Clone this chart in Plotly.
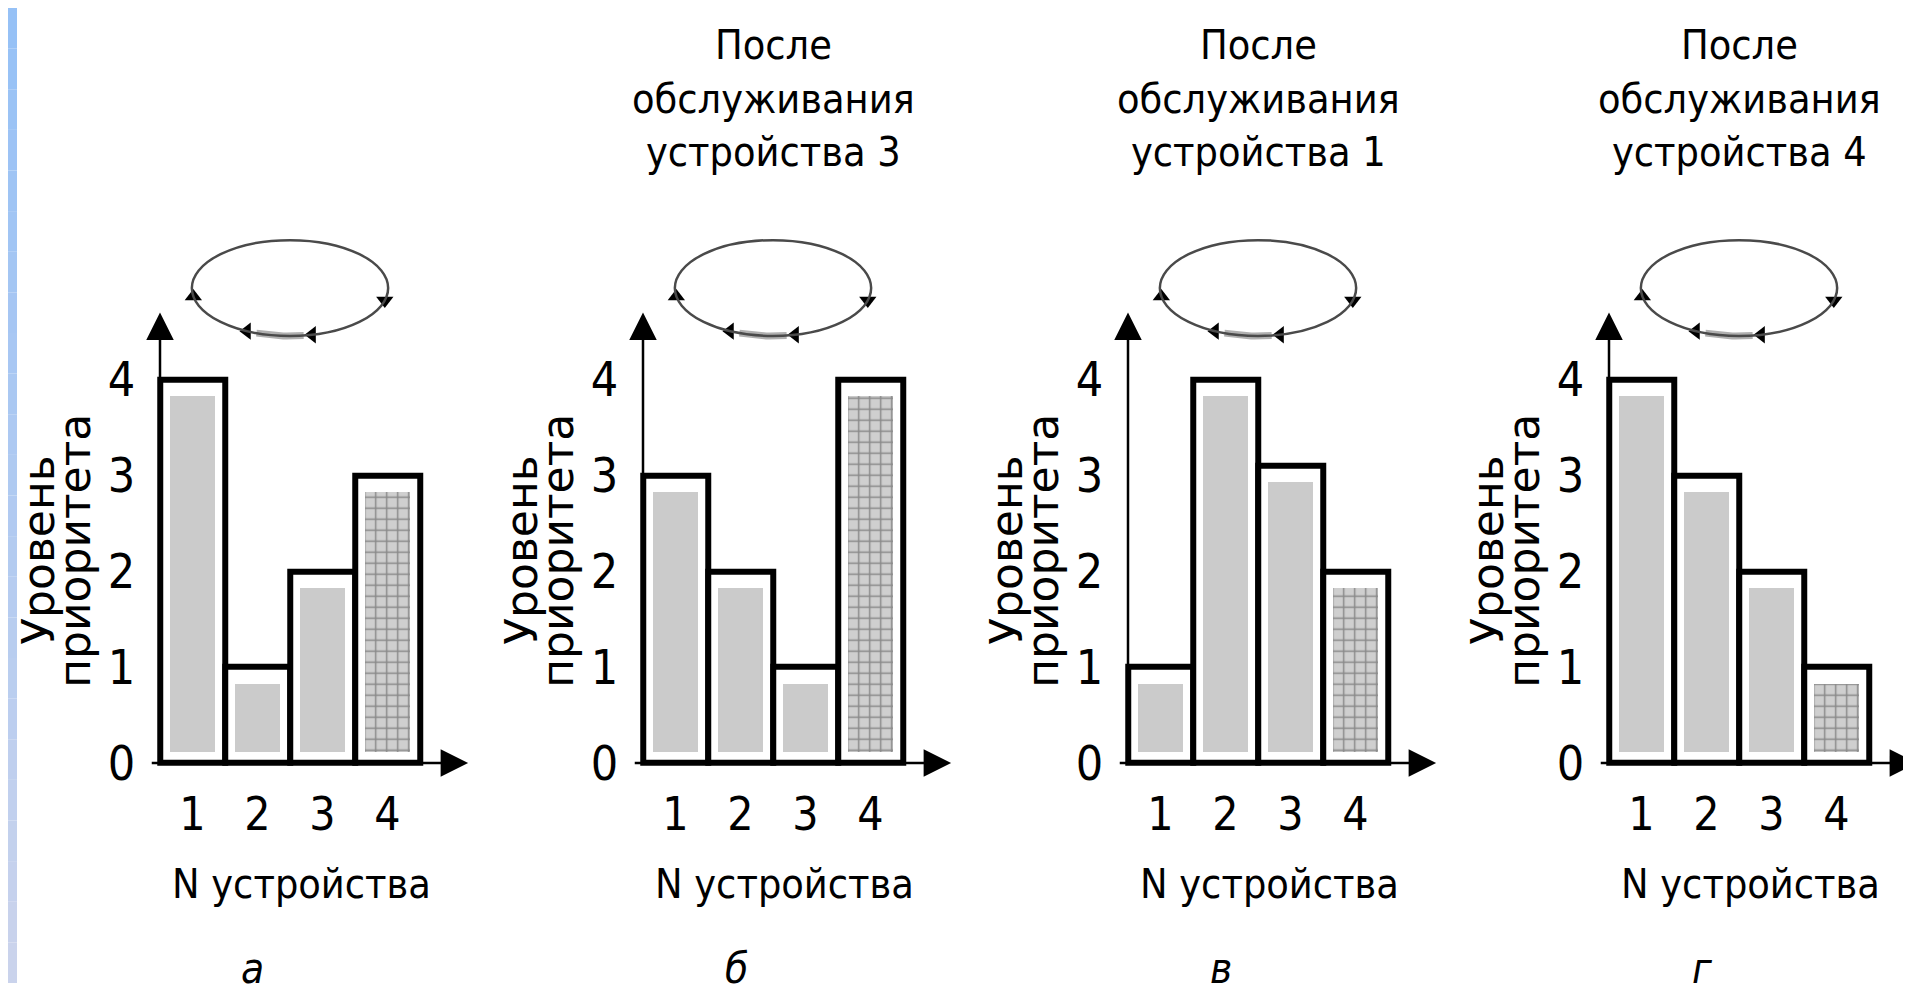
import math
import plotly.graph_objects as go

# ---------------- data ----------------
devices = [1, 2, 3, 4]
priorities_a = [4, 1, 2, 3]
priorities_b = [3, 2, 1, 4]
priorities_v = [1, 4, 3.1, 2]
priorities_g = [4, 3, 2, 1]
panel_values = [priorities_a, priorities_b, priorities_v, priorities_g]
panel_titles = [[],
                ["После", "обслуживания", "устройства 3"],
                ["После", "обслуживания", "устройства 1"],
                ["После", "обслуживания", "устройства 4"]]
panel_letters = ["а", "б", "в", "г"]
y_tick_values = [0, 1, 2, 3, 4]
y_tick_labels = ["0", "1", "2", "3", "4"]
x_tick_labels = ["1", "2", "3", "4"]
x_title = "N устройства"
y_title_lines = ["Уровень", "приоритета"]

# ---------------- layout geometry (pixels) ----------------
W, H = 1911, 997
AXIS_PX = [152, 635, 1120, 1601]   # x pixel of each y-axis
UX, UY = 65, 98                     # pixels per data unit
BASE_PX = 772                       # pixel row of y = 0
XR = [0.35, 4.75]
YR = [-0.06, 5.7]
TITLE_CENTERS = [38, 93, 147]

NARROW = "DejaVu Sans Condensed, Liberation Sans Narrow, DejaVu Sans, sans-serif"
REG = "DejaVu Sans, Liberation Sans, sans-serif"
GRAY = "#cbcbcb"


def px_x(p):
    return p / W


def px_y(p):
    return 1 - p / H


fig = go.Figure()
annotations = []
shapes = []

# left gradient stripe
top_c = (150, 193, 246)
bot_c = (202, 211, 236)
n = 24
for k in range(n):
    f = k / (n - 1)
    c = tuple(round(top_c[j] + (bot_c[j] - top_c[j]) * f) for j in range(3))
    shapes.append(dict(type="rect", xref="paper", yref="paper",
                       x0=0, x1=px_x(9), y0=1 - (k + 1) / n, y1=1 - k / n,
                       fillcolor="rgb(%d,%d,%d)" % c, line=dict(width=0), layer="below"))

for i, vals in enumerate(panel_values):
    s = "" if i == 0 else str(i + 1)
    xa, ya = "x" + s, "y" + s
    ax_px = AXIS_PX[i]
    left = ax_px - (0.5 - XR[0]) * UX
    right = left + (XR[1] - XR[0]) * UX
    bottom = BASE_PX + (0 - YR[0]) * UY
    top = BASE_PX - YR[1] * UY

    fig.add_trace(go.Bar(
        x=devices, y=vals, width=1, xaxis=xa, yaxis=ya,
        marker=dict(color="white", line=dict(color="black", width=6)),
        hoverinfo="x+y"))
    inner = [v - 0.29 for v in vals]
    fig.add_trace(go.Bar(
        x=devices, y=inner, base=0.12, width=0.7, xaxis=xa, yaxis=ya,
        marker=dict(color=[GRAY, GRAY, GRAY, "#cfcfcf"],
                    line=dict(width=0),
                    pattern=dict(shape=["", "", "", "+"], fgcolor="#f2f2f2",
                                 bgcolor="#bdbdbd", size=11, solidity=0.25)),
        hoverinfo="skip"))

    # ring (ellipse) diagram above each chart
    cx = sum(devices) / len(devices)
    a_half, b_half, cy = 1.51, 0.5, 4.955
    shapes.append(dict(type="circle", xref=xa, yref=ya,
                       x0=cx - a_half, x1=cx + a_half, y0=cy - b_half, y1=cy + b_half,
                       line=dict(color="#4a4a4a", width=2.5)))
    seg_t = [math.radians(t) for t in range(250, 279, 2)]
    fig.add_trace(go.Scatter(
        x=[cx + a_half * math.cos(t) for t in seg_t],
        y=[cy + b_half * math.sin(t) for t in seg_t],
        mode="lines", line=dict(color="#b0b0b0", width=7),
        xaxis=xa, yaxis=ya, hoverinfo="skip"))
    mk_t = [math.radians(t) for t in (190, 244, 283, 345)]
    fig.add_trace(go.Scatter(
        x=[cx + a_half * math.cos(t) for t in mk_t],
        y=[cy + b_half * math.sin(t) for t in mk_t],
        mode="markers",
        marker=dict(symbol=["triangle-up", "triangle-left", "triangle-left", "triangle-down"],
                    size=15, color="black"),
        xaxis=xa, yaxis=ya, hoverinfo="skip"))

    # axes arrows
    annotations.append(dict(x=0.5, y=4.7, ax=0.5, ay=-0.03, xref=xa, yref=ya,
                            axref=xa, ayref=ya, showarrow=True, text="",
                            arrowhead=2, arrowsize=2.2, arrowwidth=2.5, arrowcolor="black"))
    annotations.append(dict(x=5.24, y=0, ax=0.35, ay=0, xref=xa, yref=ya,
                            axref=xa, ayref=ya, showarrow=True, text="",
                            arrowhead=2, arrowsize=2.2, arrowwidth=2.5, arrowcolor="black"))

    xkey = "xaxis" + s
    ykey = "yaxis" + s
    fig.update_layout(**{
        xkey: dict(domain=[px_x(left), px_x(right)], range=XR, anchor=ya,
                   tickvals=devices, ticktext=x_tick_labels, showgrid=False,
                   zeroline=False, showline=False, ticks="", ticklabelstandoff=14,
                   tickfont=dict(family=NARROW, size=46, color="black"), fixedrange=True),
        ykey: dict(domain=[px_y(bottom), px_y(top)], range=YR, anchor=xa,
                   tickvals=y_tick_values, ticktext=y_tick_labels, showgrid=False,
                   zeroline=False, showline=False, ticks="", ticklabelstandoff=14,
                   tickfont=dict(family=NARROW, size=48, color="black"), fixedrange=True),
    })

    # texts
    for line, yc in zip(panel_titles[i], TITLE_CENTERS):
        annotations.append(dict(x=px_x(ax_px + 130), y=px_y(yc), xref="paper", yref="paper",
                                text=line, showarrow=False, xanchor="center",
                                yanchor="middle", align="center",
                                font=dict(family=NARROW, size=41, color="black")))
    annotations.append(dict(x=px_x(ax_px + 141), y=px_y(896), xref="paper", yref="paper",
                            text=x_title, showarrow=False, xanchor="center", yanchor="middle",
                            font=dict(family=NARROW, size=41, color="black")))
    annotations.append(dict(x=px_x(ax_px + 93), y=px_y(982), xref="paper", yref="paper",
                            text="<i>" + panel_letters[i] + "</i>", showarrow=False,
                            xanchor="center", yanchor="middle",
                            font=dict(family=NARROW, size=42, color="black")))
    annotations.append(dict(x=px_x(ax_px - 121), y=px_y(555), xref="paper", yref="paper",
                            text=y_title_lines[0], showarrow=False, textangle=-90,
                            xanchor="center", yanchor="middle",
                            font=dict(family=REG, size=44, color="black")))
    annotations.append(dict(x=px_x(ax_px - 85), y=px_y(555), xref="paper", yref="paper",
                            text=y_title_lines[1], showarrow=False, textangle=-90,
                            xanchor="center", yanchor="middle",
                            font=dict(family=REG, size=44, color="black")))

fig.update_layout(
    width=W, height=H, margin=dict(l=0, r=0, t=0, b=0),
    paper_bgcolor="white", plot_bgcolor="rgba(0,0,0,0)",
    barmode="overlay", bargap=0, showlegend=False,
    annotations=annotations, shapes=shapes,
)

fig.write_html("out.html")
